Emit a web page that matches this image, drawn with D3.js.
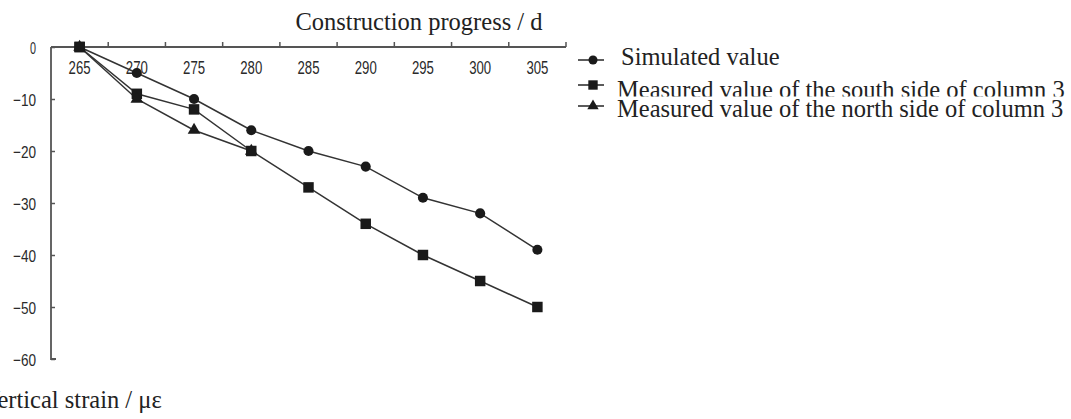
<!DOCTYPE html>
<html><head><meta charset="utf-8">
<script src="https://cdn.jsdelivr.net/npm/d3@7"></script>
<style>
html,body{margin:0;padding:0;background:#fff;overflow:hidden}
.ser{font-family:"Liberation Serif","Times New Roman",serif;fill:#222}
</style></head><body>
<svg id="c" width="1071" height="419"></svg>
<script>
const categories = [265,270,275,280,285,290,295,300,305];
const simulated = [0,-5,-10,-16,-20,-23,-29,-32,-39];
const south = [0,-9,-12,-20,-27,-34,-40,-45,-50];
const north = [0,-10,-16,-20];
const yTicks = [0,-10,-20,-30,-40,-50,-60];
const seriesNames = ["Simulated value","Measured value of the south side of column 3","Measured value of the north side of column 3"];
const xTitle = "Construction progress / d";
const yTitle = "Vertical strain / \u03bc\u03b5";

const svg = d3.select("#c");
const x = d3.scaleBand().domain(categories).range([51,566]).padding(0);
const y = d3.scaleLinear().domain([-60,0]).range([359,47]);
const cx = d => x(d) + x.bandwidth()/2;
const axisColor = "#555";
const lineColor = "#333";
const numFont = "'Liberation Sans', Arial, sans-serif";

// x axis line
svg.append("line").attr("x1",x.range()[0]).attr("x2",x.range()[1]).attr("y1",y(0)).attr("y2",y(0))
  .attr("stroke",axisColor).attr("stroke-width",1.8);
// x tick marks at band boundaries (pointing up)
svg.append("g").selectAll("line").data(categories).join("line")
  .attr("x1",d=>x(d)+x.bandwidth()).attr("x2",d=>x(d)+x.bandwidth())
  .attr("y1",y(0)).attr("y2",y(0)-5).attr("stroke",axisColor).attr("stroke-width",1.5);
// x labels
const xAxis = svg.append("g").attr("transform",`translate(0,${y(0)})`)
  .call(d3.axisBottom(x).tickSize(0));
xAxis.attr("font-family",numFont).attr("font-size",17.5);
xAxis.select(".domain").remove();
xAxis.selectAll("text").attr("fill","#2a2a2a")
  .attr("y",26.5).attr("dy",null).attr("textLength",22).attr("lengthAdjust","spacingAndGlyphs");

// y axis
const yAxis = svg.append("g").attr("transform",`translate(${x.range()[0]},0)`)
  .call(d3.axisRight(y).tickValues(yTicks).tickSize(4).tickFormat(d=>d===0?"0":"\u2212"+Math.abs(d)));
yAxis.attr("font-family",numFont).attr("font-size",17);
yAxis.select(".domain").attr("stroke",axisColor).attr("stroke-width",1.8).attr("d",`M0,${y(0)}V${y(-60)}H5`);
yAxis.selectAll(".tick line").attr("stroke",axisColor).attr("stroke-width",1.5);
yAxis.selectAll("text").attr("fill","#2a2a2a")
  .attr("text-anchor","end").attr("x",-15).attr("dy","0.36em")
  .attr("textLength",d=>d===0?6:23).attr("lengthAdjust","spacingAndGlyphs");

// lines
const line = d3.line().x((d,i)=>cx(categories[i])).y(d=>y(d));
const data = [simulated, south, north];
svg.append("g").selectAll("path").data(data).join("path")
  .attr("d",line).attr("fill","none").attr("stroke",lineColor).attr("stroke-width",1.5);

const sym = [d3.symbolCircle, d3.symbolSquare, d3.symbolTriangle];
const sizes = [80, 110, 70];
data.forEach((s,k)=>{
  svg.append("g").selectAll("path").data(s).join("path")
    .attr("transform",(d,i)=>`translate(${cx(categories[i])},${y(d)})`)
    .attr("d",d3.symbol(sym[k],sizes[k])).attr("fill","#1a1a1a");
});
// first square drawn on top
svg.append("path").attr("transform",`translate(${cx(categories[0])},${y(south[0])})`)
  .attr("d",d3.symbol(sym[1],sizes[1])).attr("fill","#1a1a1a");

// titles
svg.append("text").attr("class","ser").attr("x",419).attr("y",30).attr("text-anchor","middle")
  .attr("font-size",24.5).text(xTitle);
svg.append("text").attr("class","ser").attr("x",-17.5).attr("y",408)
  .attr("font-size",24.5).text(yTitle);

// legend
const legY = [60, 85, 106];
const legTextY = [65, 98, 117];
const legTextX = [621, 617, 617];
svg.append("defs").append("clipPath").attr("id","clip2").append("rect")
  .attr("x",600).attr("y",60).attr("width",471).attr("height",36.5);
seriesNames.forEach((n,k)=>{
  const g = svg.append("g");
  g.append("line").attr("x1",578).attr("x2",604).attr("y1",legY[k]).attr("y2",legY[k])
    .attr("stroke",lineColor).attr("stroke-width",1.6);
  g.append("path").attr("transform",`translate(${593},${legY[k]})`)
    .attr("d",d3.symbol(sym[k],sizes[k]*0.8)).attr("fill","#1a1a1a");
  const t = g.append("text").attr("class","ser").attr("x",legTextX[k]).attr("y",legTextY[k])
    .attr("font-size",24.5).text(n);
  if(k===1) t.attr("clip-path","url(#clip2)");
});
</script>
</body></html>
